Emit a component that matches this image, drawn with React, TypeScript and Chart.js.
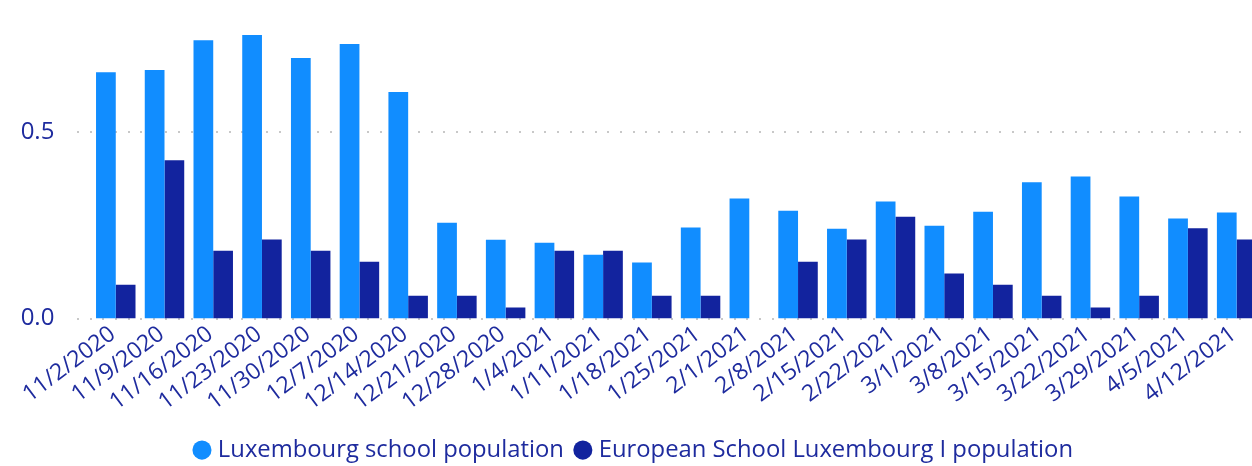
import React, { useEffect, useRef } from 'react';
import { Chart, registerables } from 'chart.js';

Chart.register(...registerables);

const categories = [
  '11/2/2020', '11/9/2020', '11/16/2020', '11/23/2020', '11/30/2020', '12/7/2020',
  '12/14/2020', '12/21/2020', '12/28/2020', '1/4/2021', '1/11/2021', '1/18/2021',
  '1/25/2021', '2/1/2021', '2/8/2021', '2/15/2021', '2/22/2021', '3/1/2021',
  '3/8/2021', '3/15/2021', '3/22/2021', '3/29/2021', '4/5/2021', '4/12/2021',
];

const luxembourgSchool = [
  0.660, 0.666, 0.746, 0.760, 0.698, 0.736, 0.607, 0.257, 0.211, 0.203, 0.171, 0.150,
  0.244, 0.322, 0.289, 0.241, 0.314, 0.249, 0.286, 0.365, 0.381, 0.327, 0.268, 0.284,
];

const europeanSchoolI = [
  0.091, 0.424, 0.182, 0.212, 0.182, 0.152, 0.061, 0.061, 0.030, 0.182, 0.182, 0.061,
  0.061, 0, 0.152, 0.212, 0.273, 0.121, 0.091, 0.061, 0.030, 0.061, 0.242, 0.212,
];

const yTicks = [0, 0.5];

const TEXT = '#1E2B9E';
const FONT = '"Open Sans", "Noto Sans", sans-serif';

export default function App() {
  const ref = useRef<HTMLCanvasElement>(null);

  useEffect(() => {
    if (!ref.current) return;
    const dotGrid = {
      id: 'dotGrid',
      beforeDatasetsDraw(chart: any) {
        const { ctx } = chart;
        const y = chart.scales.y;
        ctx.save();
        ctx.fillStyle = '#C8C8C8';
        for (const v of yTicks) {
          const py = Math.round(y.getPixelForValue(v)) - 1;
          for (let x = 77; x < chart.width; x += 12.63) {
            ctx.fillRect(Math.round(x), py, 2, 2);
          }
        }
        ctx.restore();
      },
    };

    const chart = new Chart(ref.current, {
      type: 'bar',
      data: {
        labels: categories,
        datasets: [
          {
            label: 'Luxembourg school population',
            data: luxembourgSchool,
            backgroundColor: '#118DFF',
            borderWidth: 0,
            categoryPercentage: 0.81,
            barPercentage: 1,
          },
          {
            label: 'European School Luxembourg I population',
            data: europeanSchoolI,
            backgroundColor: '#12239E',
            borderWidth: 0,
            categoryPercentage: 0.81,
            barPercentage: 1,
          },
        ],
      },
      options: {
        responsive: false,
        animation: false,
        devicePixelRatio: 1,
        layout: { padding: { left: 10, right: 10, top: 20, bottom: -6 } },
        plugins: {
          tooltip: { enabled: false },
          legend: {
            position: 'bottom',
            labels: {
              usePointStyle: true,
              pointStyle: 'circle',
              boxWidth: 8,
              boxHeight: 13.5,
              padding: 15,
              color: TEXT,
              font: { family: FONT, size: 23.8 },
            },
          },
        },
        scales: {
          x: {
            grid: { display: false, drawTicks: false },
            border: { display: false },
            ticks: {
              color: TEXT,
              font: { family: FONT, size: 23 },
              minRotation: 37,
              maxRotation: 37,
              autoSkip: false,
              padding: 2,
              labelOffset: -3,
            },
            afterFit: (scale: any) => {
              scale.height = 104.6;
            },
          },
          y: {
            min: 0,
            max: 0.8,
            bounds: 'data',
            grid: { display: false, drawTicks: false },
            border: { display: false },
            afterBuildTicks: (scale: any) => {
              scale.ticks = yTicks.map((v) => ({ value: v }));
            },
            ticks: {
              color: TEXT,
              font: { family: FONT, size: 24 },
              padding: 37,
              callback: (v: any) => Number(v).toFixed(1),
            },
            afterFit: (scale: any) => {
              scale.width = 81.4;
              scale.paddingTop = 0;
              scale.paddingBottom = 0;
            },
          },
        },
      },
      plugins: [dotGrid],
    });
    return () => chart.destroy();
  }, []);

  return (
    <div
      style={{
        position: 'absolute',
        left: 0,
        top: 0,
        width: 1252,
        height: 466,
        overflow: 'hidden',
        background: '#ffffff',
      }}
    >
      <canvas ref={ref} width={1271} height={466} style={{ display: 'block' }} />
    </div>
  );
}
